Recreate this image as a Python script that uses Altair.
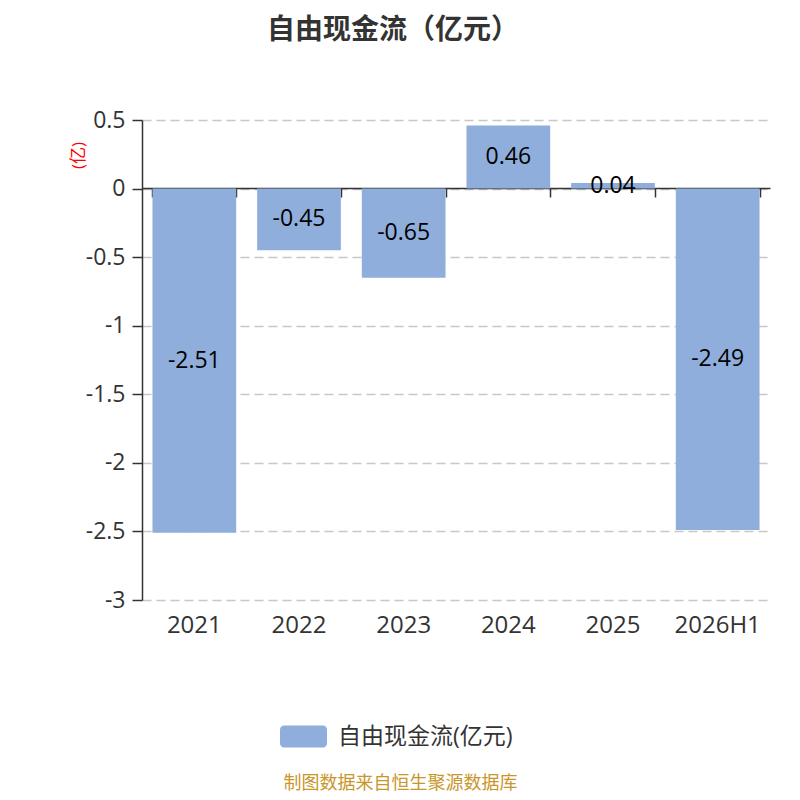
import altair as alt
import pandas as pd

years = ["2021", "2022", "2023", "2024", "2025", "2026H1"]
values = [-2.51, -0.45, -0.65, 0.46, 0.04, -2.49]
labels = ["-2.51", "-0.45", "-0.65", "0.46", "0.04", "-2.49"]
series_name = "自由现金流(亿元)"
y_ticks = [0.5, 0, -0.5, -1, -1.5, -2, -2.5, -3]

df = pd.DataFrame({
    "year": years,
    "value": values,
    "label": labels,
    "series": [series_name] * len(years),
})

FONT = "Open Sans, Noto Sans CJK SC, sans-serif"
BAR = "#8FAEDB"
xscale = alt.Scale(domain=years, paddingInner=0.2, paddingOuter=0.1)
yscale = alt.Scale(domain=[-3, 0.5], nice=False, zero=False)

legend_path = ("M-0.83,-0.47 H0.83 A0.17,0.17 0 0 1 1,-0.3 V0.3 "
               "A0.17,0.17 0 0 1 0.83,0.47 H-0.83 A0.17,0.17 0 0 1 -1,0.3 "
               "V-0.3 A0.17,0.17 0 0 1 -0.83,-0.47 Z")

y_axis = alt.Axis(values=y_ticks, labelExpr="'' + datum.value",
                  domainColor="#333", domainWidth=1.5,
                  tickColor="#333", tickSize=10, tickWidth=1.5,
                  labelFontSize=23, labelColor="#333", labelPadding=7,
                  labelFont=FONT,
                  grid=True, gridColor="#c8c8c8", gridDash=[9, 5], gridWidth=1.4,
                  title="(亿)", titleColor="red", titleFontSize=17,
                  titleFontWeight="normal", titleFont=FONT,
                  titleX=-64, titleY=35, titleAlign="center",
                  titleBaseline="middle")

base = alt.Chart(df)

bars = base.mark_bar(color=BAR).encode(
    x=alt.X("year:N", scale=xscale, sort=years,
            axis=alt.Axis(orient="bottom", domain=False, ticks=False, labelAngle=0,
                          labelFontSize=24, labelColor="#333", labelPadding=13,
                          labelFont=FONT, grid=False,
                          title="制图数据来自恒生聚源数据库", titleFont=FONT,
                          titleFontSize=18, titleFontWeight="normal",
                          titleColor="#C8962B", titleX=258, titleY=183,
                          titleAlign="center", titleBaseline="middle")),
    y=alt.Y("value:Q", scale=yscale, axis=y_axis),
    color=alt.Color("series:N", scale=alt.Scale(range=[BAR]),
                    legend=alt.Legend(orient="none", legendX=138, legendY=593,
                                      title=None, symbolType=legend_path,
                                      symbolSize=2209, symbolStrokeWidth=0,
                                      symbolOpacity=1, labelFontSize=23,
                                      labelColor="#333", labelFont=FONT,
                                      labelOffset=11, labelLimit=0)),
)

text = base.transform_calculate(mid="datum.value / 2").mark_text(
    fontSize=23, color="black", font=FONT, align="center", baseline="middle"
).encode(
    x=alt.X("year:N", scale=xscale, sort=years,
            axis=alt.Axis(orient="bottom", offset=-412, labels=False, domain=True,
                          ticks=True, tickBand="extent", tickSize=9, tickWidth=1.5,
                          tickColor="#333", domainColor="#333", domainWidth=1.5,
                          title=None, grid=False)),
    y=alt.Y("mid:Q", scale=yscale, axis=y_axis),
    text="label:N",
)

chart = alt.layer(bars, text).resolve_axis(x="independent").properties(
    width=628, height=480,
    autosize=alt.AutoSizeParams(type="none"),
    padding={"left": 134, "top": 112, "right": 22, "bottom": 192},
    title=alt.TitleParams("自由现金流（亿元）", fontSize=28, fontWeight="bold",
                          color="#333", font=FONT, anchor="middle", dx=-63, offset=64),
).configure_view(stroke=None)

chart.save("out.html", embed_options={"renderer": "svg", "actions": False})
